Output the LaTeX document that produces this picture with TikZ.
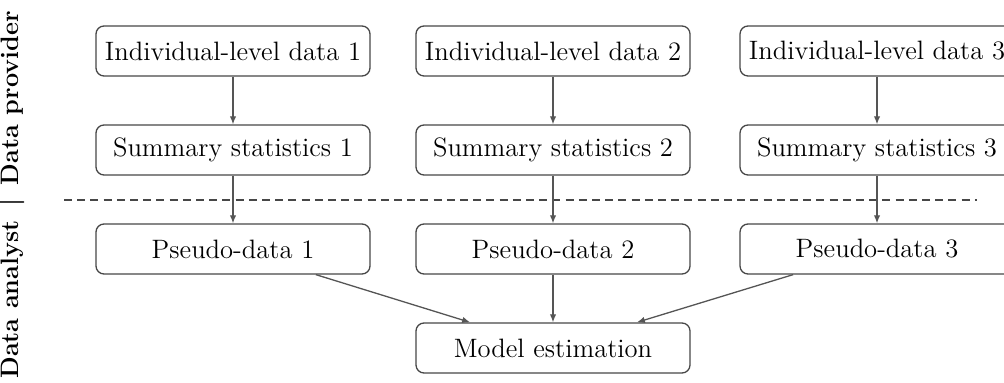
\documentclass[tikz,border=0pt]{standalone}
\usetikzlibrary{arrows.meta}
\definecolor{boxline}{HTML}{474747}
\definecolor{arrowc}{HTML}{555555}
\begin{document}
\begin{tikzpicture}[x=0.5pt,y=-0.5pt,
  stagebox/.style={draw=boxline, line width=0.65pt, rounded corners=4pt,
    minimum width=137pt, minimum height=25pt, inner sep=0pt,
    font=\fontsize{13.3}{16}\selectfont, text=black},
  flow/.style={draw=arrowc, line width=0.65pt, -{Latex[length=4pt,width=3.2pt]}},
  sep/.style={draw=boxline, line width=0.7pt, dash pattern=on 4pt off 2.6pt}]
\useasboundingbox (0,0) rectangle (1004,383);
\node[rotate=90, font=\bfseries\fontsize{12.6}{15}\selectfont] (lab) at (12,195) {Data analyst \,|\, Data provider};
\foreach \i/\x in {1/233,2/553,3/877}{
  \node[stagebox] (ind\i) at (\x,51) {Individual-level data \i};
  \node[stagebox] (sum\i) at (\x,150) {Summary statistics \i};
  \node[stagebox] (pse\i) at (\x,249) {Pseudo-data \i};
}
\node[stagebox] (model) at (553,348) {Model estimation};
\coordinate (dl) at (64,200);
\coordinate (dr) at (977,200);
\draw[sep] (dl) -- (dr);
\foreach \i in {1,2,3}{
  \draw[flow] (ind\i) -- (sum\i);
  \draw[flow] (sum\i) -- (pse\i);
  \draw[flow] (pse\i) -- (model);
}
\end{tikzpicture}
\end{document}
